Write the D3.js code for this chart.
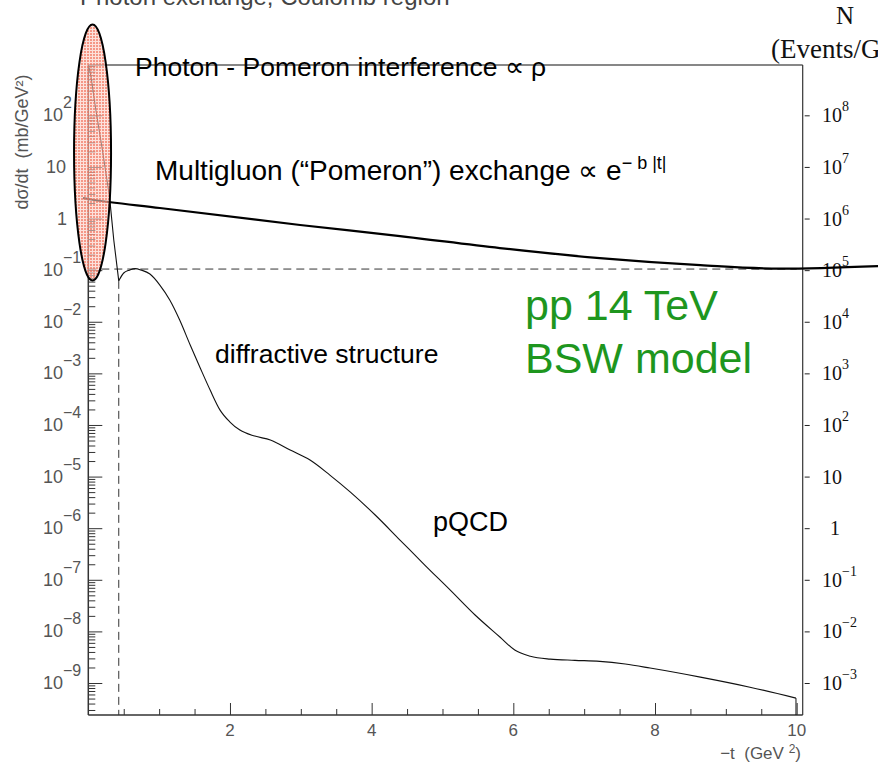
<!DOCTYPE html>
<html>
<head>
<meta charset="utf-8">
<script src="https://cdn.jsdelivr.net/npm/d3@7/dist/d3.min.js"></script>
<style>
  html, body { margin: 0; padding: 0; background: #fff; }
  svg { display: block; font-family: "Liberation Sans", Arial, Helvetica, sans-serif; }
  text { white-space: pre; }
</style>
</head>
<body>
<svg id="chart" width="878" height="765"></svg>
<script>
// ---- data ----
const curveT = [0.005, 0.035, 0.1, 0.2, 0.3, 0.36, 0.43,
  0.5, 0.58, 0.66, 0.75, 0.87, 1.01, 1.15, 1.29, 1.44, 1.58, 1.72, 1.86, 2.0, 2.14, 2.35, 2.57,
  2.85, 3.13, 3.41, 3.70, 4.05, 4.40, 4.75, 5.11, 5.46, 5.81, 6.02, 6.24, 6.52, 6.87, 7.22, 7.58,
  7.93, 8.64, 9.34, 9.99];
const curveV = [900, 600, 145, 21, 2.6, 0.38, 0.062,
  0.088, 0.1, 0.107, 0.1, 0.084, 0.0514, 0.0264, 0.0108, 3.5e-3, 1.27e-3, 4.75e-4, 1.94e-4, 1.14e-4, 7.96e-5, 6.09e-5, 5.1e-5,
  3.26e-5, 2.09e-5, 1.07e-5, 5.0e-6, 1.8e-6, 5.9e-7, 1.93e-7, 6.3e-8, 2.08e-8, 7.8e-9, 4.35e-9, 3.3e-9, 2.9e-9, 2.75e-9, 2.63e-9, 2.33e-9,
  1.95e-9, 1.30e-9, 8.3e-10, 5.1e-10];
const dipIndex = 6;
const pomT = [-0.075, 0, 1.01, 2.99, 4.4, 5.81, 7.22, 8.64, 9.77, 11.15];
const pomV = [2.49, 2.39, 1.6, 0.75, 0.458, 0.268, 0.171, 0.125, 0.107, 0.12];
const dipT = 0.43;
const plateauV = 0.105;
const xMajorTicks = [2, 4, 6, 8, 10];
const xTickLabels = ["2", "4", "6", "8", "10"];
const yLeftExps = [-9, -8, -7, -6, -5, -4, -3, -2, -1, 0, 1, 2];
const yRightExps = [-3, -2, -1, 0, 1, 2, 3, 4, 5, 6, 7, 8];
const rightFactor = 1e6;

// ---- layout ----
const svg = d3.select("#chart");
const SERIF = "'Liberation Serif', 'Times New Roman', Times, serif";
const X0 = 88.3, X1 = 802.7, Y0 = 715, Y1 = 65;
const x = d3.scaleLinear().domain([0, 10.085]).range([X0, X1]);
const y = d3.scaleLog().domain([2.4e-10, 944]).range([Y0, Y1]);
const yR = d3.scaleLog().domain([2.4e-10 * rightFactor, 944 * rightFactor]).range([Y0, Y1]);
const axisCol = "#333";
const labCol = "#555";

// pattern for ellipse
const defs = svg.append("defs");
const pat = defs.append("pattern").attr("id", "dots").attr("width", 3).attr("height", 3)
  .attr("patternUnits", "userSpaceOnUse");
pat.append("rect").attr("width", 3).attr("height", 3).attr("fill", "rgba(252,205,195,0.6)");
pat.append("rect").attr("width", 2).attr("height", 2).attr("fill", "rgba(240,110,88,0.65)");

// top cut-off caption
svg.append("text").attr("x", 80).attr("y", 5).attr("font-size", 24).attr("fill", "#444")
  .text("Photon exchange, Coulomb region");

// frame top & right
svg.append("line").attr("x1", X0).attr("x2", X1).attr("y1", Y1).attr("y2", Y1)
  .attr("stroke", "#111").attr("stroke-width", 1.2);
svg.append("line").attr("x1", X1).attr("x2", X1).attr("y1", Y1).attr("y2", Y0)
  .attr("stroke", axisCol).attr("stroke-width", 1.2);

// left axis (ticks inward)
const decades = d3.range(-10, 3);
const minorVals = [];
decades.forEach(k => { for (let m = 2; m <= 9; m++) { const v = m * Math.pow(10, k); if (v >= y.domain()[0] && v <= y.domain()[1]) minorVals.push(v); } });
const majorVals = yLeftExps.map(e => Math.pow(10, e));
const gL = svg.append("g").attr("transform", `translate(${X0},0)`);
gL.call(d3.axisRight(y).tickValues(majorVals).tickSize(14).tickFormat(""));
gL.select(".domain").remove();
const gLm = svg.append("g").attr("transform", `translate(${X0},0)`);
gLm.call(d3.axisRight(y).tickValues(minorVals).tickSize(7).tickFormat(""));
gLm.select(".domain").remove();
svg.selectAll("g .tick line").attr("stroke", axisCol);
svg.append("line").attr("x1", X0).attr("x2", X0).attr("y1", Y1).attr("y2", Y0)
  .attr("stroke", axisCol).attr("stroke-width", 1.5);

// left tick labels
yLeftExps.forEach(e => {
  const yy = y(Math.pow(10, e));
  if (e === 0) {
    svg.append("text").attr("x", 67).attr("y", yy + 6).attr("text-anchor", "end")
      .attr("font-size", 18).attr("fill", labCol).text("1");
  } else if (e === 1) {
    svg.append("text").attr("x", 66).attr("y", yy + 6).attr("text-anchor", "end")
      .attr("font-size", 18).attr("fill", labCol).text("10");
  } else {
    svg.append("text").attr("x", 63).attr("y", yy + 6).attr("text-anchor", "end")
      .attr("font-size", 18).attr("fill", labCol).text("10");
    svg.append("text").attr("x", 63).attr("y", yy - 7).attr("text-anchor", "start")
      .attr("font-size", 16).attr("fill", labCol).text(e < 0 ? "\u2212" + (-e) : String(e));
  }
});

// y title
svg.append("text").attr("transform", "translate(28,142) rotate(-90)").attr("text-anchor", "middle")
  .attr("font-size", 18).attr("fill", labCol).text("d\u03c3/dt  (mb/GeV\u00b2)");

// bottom axis
const gB = svg.append("g").attr("transform", `translate(0,${Y0})`);
gB.call(d3.axisTop(x).tickValues(xMajorTicks).tickSize(12).tickFormat(""));
gB.select(".domain").remove();
const gBm = svg.append("g").attr("transform", `translate(0,${Y0})`);
gBm.call(d3.axisTop(x).tickValues(d3.range(0.5, 10.01, 0.5).filter(v => v % 2 !== 0)).tickSize(6).tickFormat(""));
gBm.select(".domain").remove();
svg.selectAll("g .tick line").attr("stroke", axisCol);
svg.append("line").attr("x1", X0).attr("x2", X1).attr("y1", Y0).attr("y2", Y0)
  .attr("stroke", axisCol).attr("stroke-width", 1.5);
xMajorTicks.forEach((v, i) => {
  svg.append("text").attr("x", x(v)).attr("y", 736).attr("text-anchor", "middle")
    .attr("font-size", 17).attr("fill", labCol).text(xTickLabels[i]);
});
const xt = svg.append("text").attr("x", 801).attr("y", 759).attr("text-anchor", "end")
  .attr("font-size", 17).attr("fill", labCol);
xt.append("tspan").text("\u2212t  (GeV ");
xt.append("tspan").attr("font-size", 12).attr("dy", -6).text("2");
xt.append("tspan").attr("dy", 6).text(")");

// right axis
const gR = svg.append("g").attr("transform", `translate(${X1 + 2},0)`);
gR.call(d3.axisRight(yR).tickValues(yRightExps.map(e => Math.pow(10, e))).tickSize(5).tickFormat(""));
gR.select(".domain").remove();
gR.selectAll(".tick line").attr("stroke", "#222");
yRightExps.forEach(e => {
  const yy = yR(Math.pow(10, e));
  if (e === 0) {
    svg.append("text").attr("x", 830).attr("y", yy + 7).style("font-family", SERIF)
      .attr("font-size", 20).attr("fill", "#111").text("1");
  } else if (e === 1) {
    svg.append("text").attr("x", 822).attr("y", yy + 7).style("font-family", SERIF)
      .attr("font-size", 20).attr("fill", "#111").text("10");
  } else {
    svg.append("text").attr("x", 822).attr("y", yy + 7).style("font-family", SERIF)
      .attr("font-size", 20).attr("fill", "#111").text("10");
    svg.append("text").attr("x", 842).attr("y", yy - 4).style("font-family", SERIF)
      .attr("font-size", 14).attr("fill", "#111").text(e < 0 ? "\u2212" + (-e) : String(e));
  }
});
svg.append("text").attr("x", 845).attr("y", 24).attr("text-anchor", "middle")
  .style("font-family", SERIF).attr("font-size", 25)
  .attr("fill", "#111").text("N");
svg.append("text").attr("x", 771).attr("y", 58)
  .style("font-family", SERIF).attr("font-size", 27)
  .attr("fill", "#111").text("(Events/GeV\u00b2)");

// dashed guides
svg.append("line").attr("x1", x(0)).attr("x2", x(10)).attr("y1", y(plateauV)).attr("y2", y(plateauV))
  .attr("stroke", "#333").attr("stroke-width", 1).attr("stroke-dasharray", "8,5");
svg.append("line").attr("x1", x(dipT)).attr("x2", x(dipT)).attr("y1", y(curveV[dipIndex])).attr("y2", Y0)
  .attr("stroke", "#333").attr("stroke-width", 1).attr("stroke-dasharray", "8,5");

// cross-section curve
const pts = curveT.map((t, i) => [t, curveV[i]]);
const lineLin = d3.line().x(d => x(d[0])).y(d => y(d[1])).curve(d3.curveLinear);
const lineMono = d3.line().x(d => x(d[0])).y(d => y(d[1])).curve(d3.curveMonotoneX);
svg.append("path").attr("d", lineLin(pts.slice(0, dipIndex + 1)))
  .attr("fill", "none").attr("stroke", "#111").attr("stroke-width", 1.1);
svg.append("path").attr("d", lineMono(pts.slice(dipIndex)))
  .attr("fill", "none").attr("stroke", "#111").attr("stroke-width", 1.1);
const last = pts[pts.length - 1];
svg.append("line").attr("x1", x(last[0])).attr("x2", x(last[0])).attr("y1", y(last[1])).attr("y2", Y0)
  .attr("stroke", "#111").attr("stroke-width", 1);

// pomeron exponential (thick)
const pom = pomT.map((t, i) => [t, pomV[i]]);
svg.append("path").attr("d", lineMono(pom)).attr("fill", "none")
  .attr("stroke", "#000").attr("stroke-width", 2.2);

// ellipse highlight
svg.append("ellipse").attr("cx", x(0.06)).attr("cy", y(19)).attr("rx", 18.5).attr("ry", 128)
  .attr("fill", "url(#dots)").attr("stroke", "#000").attr("stroke-width", 2);

// annotations
svg.append("text").attr("x", 135).attr("y", 76).attr("font-size", 26.5).attr("fill", "#000")
  .text("Photon - Pomeron interference \u221d \u03c1");
const mg = svg.append("text").attr("x", 155).attr("y", 180).attr("font-size", 28).attr("fill", "#000");
mg.append("tspan").text("Multigluon (\u201cPomeron\u201d) exchange \u221d e");
mg.append("tspan").attr("font-size", 18).attr("dy", -11).text("\u2212 b |t|");
svg.append("text").attr("x", 215).attr("y", 363).attr("font-size", 26.5).attr("fill", "#000")
  .text("diffractive structure");
svg.append("text").attr("x", 433).attr("y", 531).attr("font-size", 27).attr("fill", "#000")
  .text("pQCD");
svg.append("text").attr("x", 525).attr("y", 320).attr("font-size", 43).attr("fill", "#1e961e")
  .text("pp 14 TeV");
svg.append("text").attr("x", 525).attr("y", 373).attr("font-size", 43).attr("fill", "#1e961e")
  .text("BSW model");
</script>
</body>
</html>
